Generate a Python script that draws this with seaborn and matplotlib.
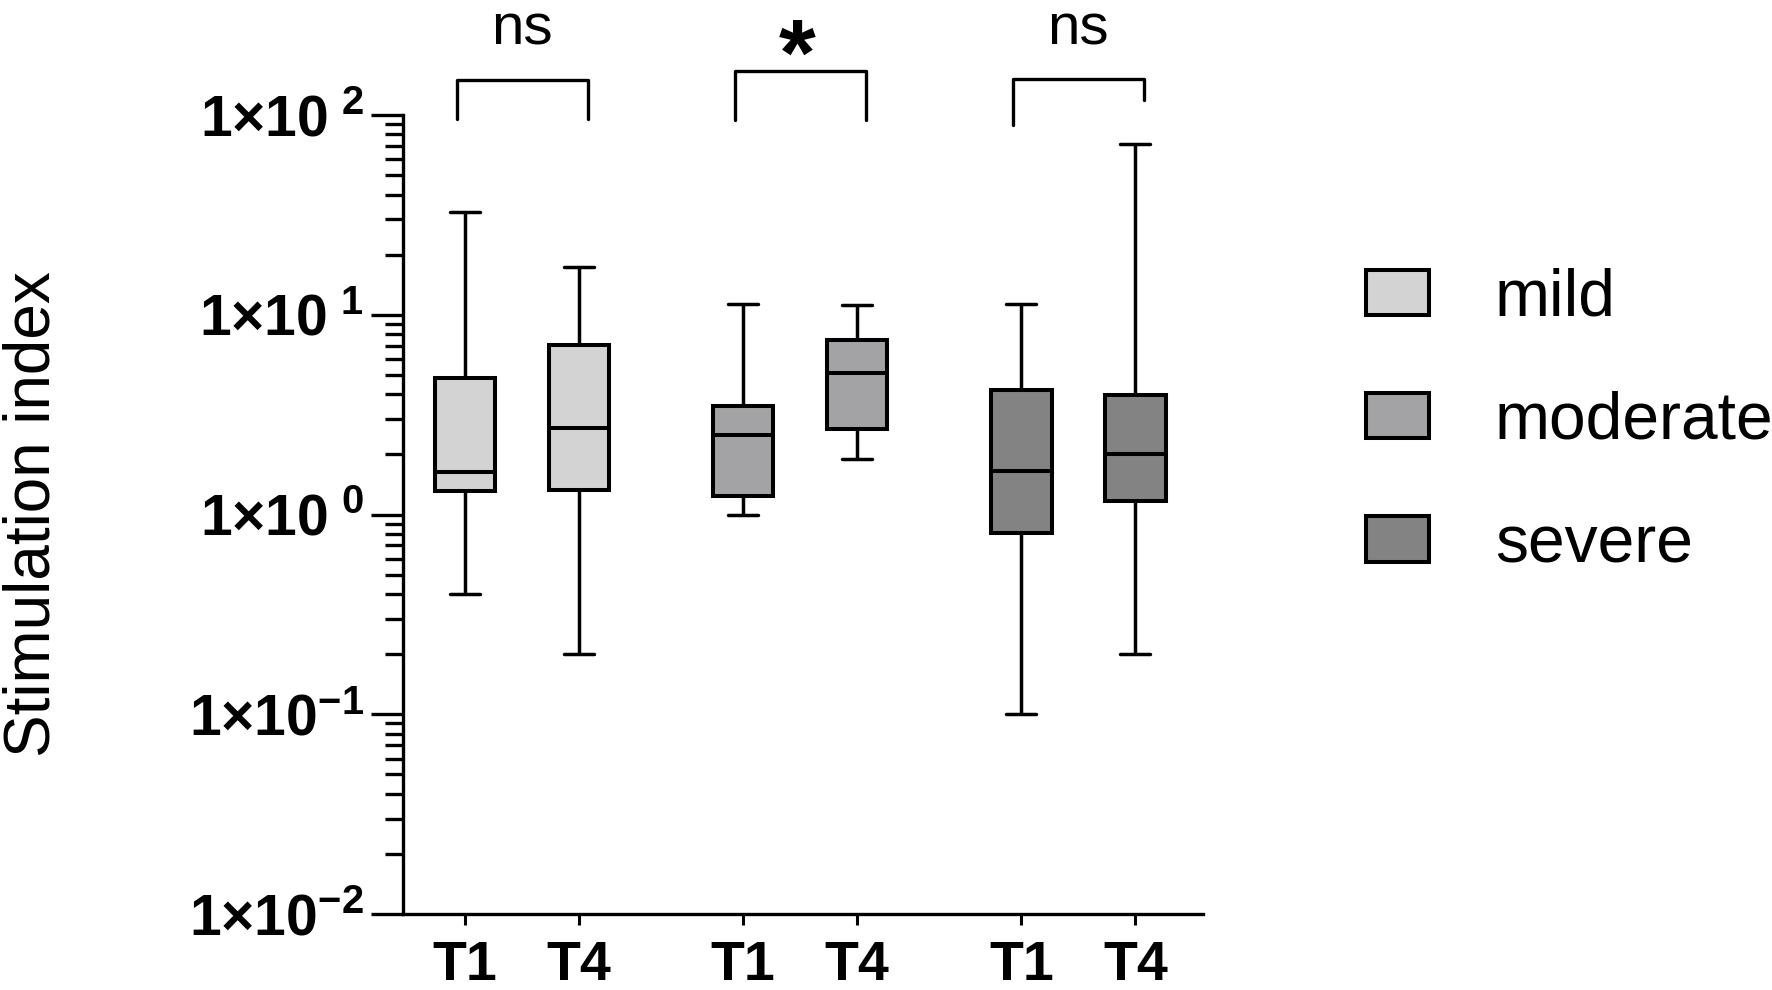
import numpy as np
import pandas as pd
import matplotlib
matplotlib.use('Agg')
import matplotlib.pyplot as plt
import seaborn as sns
from matplotlib import ticker

# five number summaries (whisker low, q1, median, q3, whisker high)
severity = ['mild', 'mild', 'moderate', 'moderate', 'severe', 'severe']
timepoint = ['T1', 'T4', 'T1', 'T4', 'T1', 'T4']
whisker_low = [0.40, 0.20, 1.00, 1.89, 0.10, 0.20]
q1 = [1.31, 1.32, 1.24, 2.69, 0.81, 1.17]
median = [1.63, 2.71, 2.50, 5.14, 1.65, 2.01]
q3 = [4.82, 7.06, 3.49, 7.48, 4.20, 3.98]
whisker_high = [32.7, 17.3, 11.3, 11.2, 11.3, 72.0]

groups = ['mild', 'moderate', 'severe']
colors = ['#d3d3d3', '#a2a2a6', '#838383']
times = ['T1', 'T4']

yticks = [1e-2, 1e-1, 1e0, 1e1, 1e2]
ytick_labels = ['$1×10^{-2}$', '$1×10^{-1}$', r'$1×10^{\ 0}$', r'$1×10^{\ 1}$', r'$1×10^{\ 2}$']

# significance brackets (one per group)
sig_labels = ['ns', '*', 'ns']
bracket_top = [150, 166, 151]
bracket_left = [95, 94, 89]
bracket_right = [95, 94, 119]

################################################################################

group_step = 2.44  # distance between the T1 boxes of two groups

rows = []
for i in range(len(severity)):
    pos = groups.index(severity[i]) * group_step + times.index(timepoint[i])
    for v in (whisker_low[i], q1[i], median[i], q3[i], whisker_high[i]):
        rows.append({'pos': round(pos, 2), 'value': v, 'severity': severity[i]})
df = pd.DataFrame(rows)
positions = sorted(df['pos'].unique())

sns.set_style('ticks')
plt.rcParams['font.family'] = ['Liberation Sans', 'DejaVu Sans']
plt.rcParams['mathtext.fontset'] = 'custom'
plt.rcParams['mathtext.rm'] = 'Liberation Sans:bold'
plt.rcParams['mathtext.bf'] = 'Liberation Sans:bold'
for k in ['text.color', 'axes.labelcolor', 'xtick.color', 'ytick.color', 'axes.edgecolor']:
    plt.rcParams[k] = 'black'

fig = plt.figure(figsize=(17.72, 9.9), dpi=100)
ax = fig.add_axes([0.2274, 0.0768, 0.4515, 0.807])

sns.boxplot(data=df, x='pos', y='value', hue='severity', hue_order=groups,
            palette=dict(zip(groups, colors)), native_scale=True, log_scale=(False, True),
            width=0.53, dodge=False, whis=np.inf, showfliers=False,
            linecolor='black', linewidth=2.9,
            whiskerprops={'linewidth': 2.5}, capprops={'linewidth': 2.5},
            medianprops={'linewidth': 2.9}, ax=ax)

ax.set_ylim(1e-2, 1e2)
ax.set_xlim(-0.544, 6.474)
ax.set_yticks(yticks)
ax.set_yticklabels(ytick_labels, fontsize=41)
ax.yaxis.set_minor_formatter(ticker.NullFormatter())
ax.set_xticks(positions)
ax.set_xticklabels([timepoint[i] for i in range(len(positions))], fontsize=40, fontweight='bold')

sns.despine(ax=ax)
for s in ['left', 'bottom']:
    ax.spines[s].set_linewidth(2.4)
ax.tick_params(axis='y', which='major', length=23, width=2.4, pad=5)
ax.tick_params(axis='y', which='minor', length=13, width=2.4)
ax.tick_params(axis='x', which='major', length=8, width=2.2, pad=11)

ax.set_xlabel('')
ax.set_ylabel('Stimulation index', fontsize=46)
ax.yaxis.set_label_coords(-0.425, 0.5)

# brackets and significance labels
for g in range(len(groups)):
    x0 = g * group_step - 0.07
    x1 = g * group_step + 1 + 0.08
    ax.plot([x0, x0, x1, x1], [bracket_left[g], bracket_top[g], bracket_top[g], bracket_right[g]],
            color='black', lw=2.4, clip_on=False)
    if sig_labels[g] == '*':
        ax.text(g * group_step + 0.47, 141, '*', fontsize=68, fontweight='bold',
                ha='center', va='baseline', clip_on=False)
    else:
        ax.text(g * group_step + 0.5, 225, sig_labels[g], fontsize=42,
                ha='center', va='baseline', clip_on=False)

sns.move_legend(ax, 'center left', bbox_to_anchor=(0.7709, 0.574), bbox_transform=fig.transFigure,
                title=None, frameon=False, fontsize=47.5, handlelength=0.95, handleheight=0.68,
                handletextpad=1.0, labelspacing=0.93, borderpad=0, borderaxespad=0)

plt.savefig('out.png', dpi=100)
